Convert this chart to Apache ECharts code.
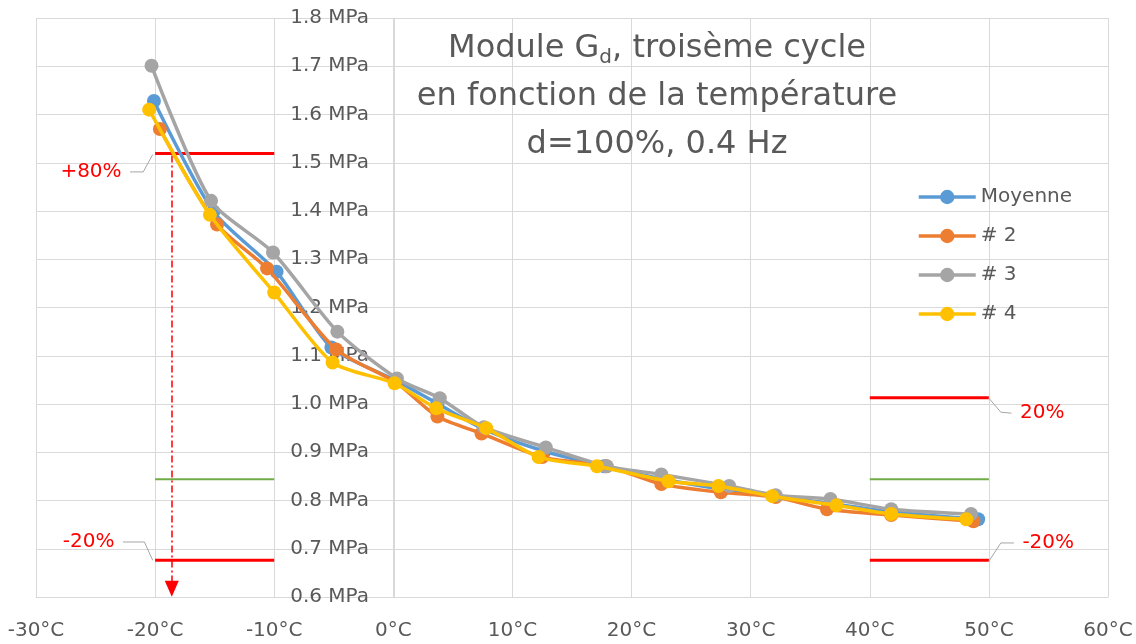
<!DOCTYPE html>
<html>
<head>
<meta charset="utf-8">
<script src="https://cdn.jsdelivr.net/npm/echarts@6/dist/echarts.min.js"></script>
<style>
html, body { margin: 0; padding: 0; background: #fff; }
#chart { width: 1136px; height: 644px; }
</style>
</head>
<body>
<div id="chart"></div>
<script>
// données : [température °C, module MPa]
var moyenne = [[-20.1,1.628],[-15.1,1.399],[-9.8,1.274],[-5.2,1.117],[0.2,1.049],[3.7,1.001],[7.6,0.948],[12.7,0.902],[17.7,0.871],[22.7,0.844],[27.7,0.823],[32.0,0.809],[36.7,0.794],[41.8,0.776],[49.1,0.761]];
var essai2 = [[-19.6,1.570],[-14.8,1.372],[-10.6,1.281],[-4.8,1.113],[0.2,1.045],[3.7,0.974],[7.4,0.939],[12.5,0.890],[17.9,0.871],[22.5,0.834],[27.5,0.817],[32.1,0.807],[36.4,0.782],[41.8,0.770],[48.7,0.757]];
var essai3 = [[-20.3,1.701],[-15.3,1.421],[-10.1,1.314],[-4.7,1.150],[0.3,1.053],[3.9,1.012],[7.6,0.952],[12.8,0.910],[17.9,0.871],[22.5,0.854],[28.2,0.830],[32.1,0.811],[36.7,0.803],[41.8,0.782],[48.5,0.772]];
var essai4 = [[-20.5,1.610],[-15.4,1.392],[-10.0,1.231],[-5.1,1.086],[0.1,1.043],[3.6,0.991],[7.8,0.950],[12.2,0.890],[17.1,0.871],[23.1,0.840],[27.3,0.830],[31.8,0.809],[37.2,0.790],[41.8,0.772],[48.1,0.761]];

var noms = ['Moyenne', '# 2', '# 3', '# 4'];
var couleurs = ['#5B9BD5', '#ED7D31', '#A5A5A5', '#FFC000'];

// limites
var limGaucheX = [-20, -10];
var limDroiteX = [40, 50];
var limHautGauche = 1.519;
var limMilieu = 0.844;
var limBas = 0.676;
var limHautDroite = 1.013;

// flèche verticale
var flecheX = -18.6;
var flecheY = [1.515, 0.617];

// lignes de rappel des étiquettes
var rappel80 = [[-22.1,1.481],[-21.0,1.481],[-20.2,1.517]];
var rappelM20g = [[-22.7,0.714],[-20.9,0.714],[-20.2,0.676]];
var rappel20d = [[50.0,1.012],[51.0,0.983],[51.9,0.981]];
var rappelM20d = [[50.0,0.674],[51.0,0.712],[52.1,0.712]];

var police = 'DejaVu Sans';
var gris = '#595959';

var myChart = echarts.init(document.getElementById('chart'));

function courbe(i, data) {
    return {
        name: noms[i],
        type: 'line',
        data: data,
        smooth: 0.25,
        symbol: 'circle',
        symbolSize: 14,
        lineStyle: { width: 3.5, color: couleurs[i] },
        itemStyle: { color: couleurs[i] },
        z: 3 + i
    };
}

function segment(x, y, color, width) {
    return {
        type: 'line',
        data: [[x[0], y], [x[1], y]],
        symbol: 'none',
        silent: true,
        lineStyle: { color: color, width: width },
        z: 2
    };
}

function rappel(data, texte, cote) {
    var pts = data.map(function (p, k) {
        var fin = cote === 'left' ? 0 : data.length - 1;
        if (k !== fin) return p;
        return {
            value: p,
            label: {
                show: true,
                position: cote,
                distance: 8,
                formatter: texte,
                color: '#FF0000',
                fontFamily: police,
                fontSize: 20
            }
        };
    });
    return {
        type: 'line',
        data: pts,
        symbol: 'circle',
        symbolSize: 1,
        silent: true,
        itemStyle: { color: 'rgba(0,0,0,0)' },
        lineStyle: { color: '#A5A5A5', width: 1 },
        z: 2
    };
}

var option = {
    animation: false,
    title: {
        text: '{a|Module G}{sub|d}{a|, troisème cycle}\n{a|en fonction de la température}\n{a|d=100%, 0.4 Hz}',
        left: 657,
        top: 25,
        textAlign: 'center',
        padding: 0,
        textStyle: {
            fontWeight: 'normal',
            rich: {
                a: { fontFamily: police, fontSize: 32, fontWeight: 'normal', color: gris, lineHeight: 48 },
                sub: { fontFamily: police, fontSize: 20, fontWeight: 'normal', color: gris, lineHeight: 48, padding: [18, 0, 0, 0] }
            }
        }
    },
    legend: {
        data: noms,
        orient: 'vertical',
        left: 917,
        top: 187,
        padding: 0,
        itemWidth: 57,
        itemHeight: 18,
        itemGap: 19,
        lineStyle: { width: 3.5 },
        textStyle: { fontFamily: police, fontSize: 20, color: gris }
    },
    grid: { left: 36, right: 28, top: 18, bottom: 47 },
    xAxis: {
        type: 'value',
        min: -30,
        max: 60,
        interval: 10,
        axisLine: { lineStyle: { color: '#D9D9D9' } },
        axisTick: { show: false },
        splitLine: { lineStyle: { color: '#D9D9D9' } },
        axisLabel: {
            formatter: function (v) { return v + '°C'; },
            fontFamily: police,
            fontSize: 20,
            color: gris,
            margin: 24
        }
    },
    yAxis: {
        type: 'value',
        min: 0.6,
        max: 1.8,
        interval: 0.1,
        // l'axe passe par 0 °C
        offset: -358,
        axisLine: { show: true, lineStyle: { color: '#D9D9D9' } },
        axisTick: { show: false },
        splitLine: { lineStyle: { color: '#D9D9D9' } },
        axisLabel: {
            formatter: function (v) { return v.toFixed(1) + ' MPa'; },
            fontFamily: police,
            fontSize: 20,
            color: gris,
            margin: 25
        }
    },
    series: [
        segment(limGaucheX, limHautGauche, '#FF0000', 3),
        segment(limGaucheX, limMilieu, '#70AD47', 2),
        segment(limGaucheX, limBas, '#FF0000', 3),
        segment(limDroiteX, limHautDroite, '#FF0000', 3),
        segment(limDroiteX, limMilieu, '#70AD47', 2),
        segment(limDroiteX, limBas, '#FF0000', 3),
        rappel(rappel80, '+80%', 'left'),
        rappel(rappelM20g, '-20%', 'left'),
        rappel(rappel20d, '20%', 'right'),
        rappel(rappelM20d, '-20%', 'right'),
        {
            type: 'line',
            data: [],
            markLine: {
                silent: true,
                symbol: ['none', 'triangle'],
                symbolSize: [14, 16],
                label: { show: false },
                lineStyle: { color: '#FF0000', width: 1.5, type: [7, 3, 2, 3] },
                data: [[{ coord: [flecheX, flecheY[0]] }, { coord: [flecheX, flecheY[1]] }]]
            },
            z: 2
        },
        courbe(0, moyenne),
        courbe(1, essai2),
        courbe(2, essai3),
        courbe(3, essai4)
    ]
};

myChart.setOption(option);
</script>
</body>
</html>
